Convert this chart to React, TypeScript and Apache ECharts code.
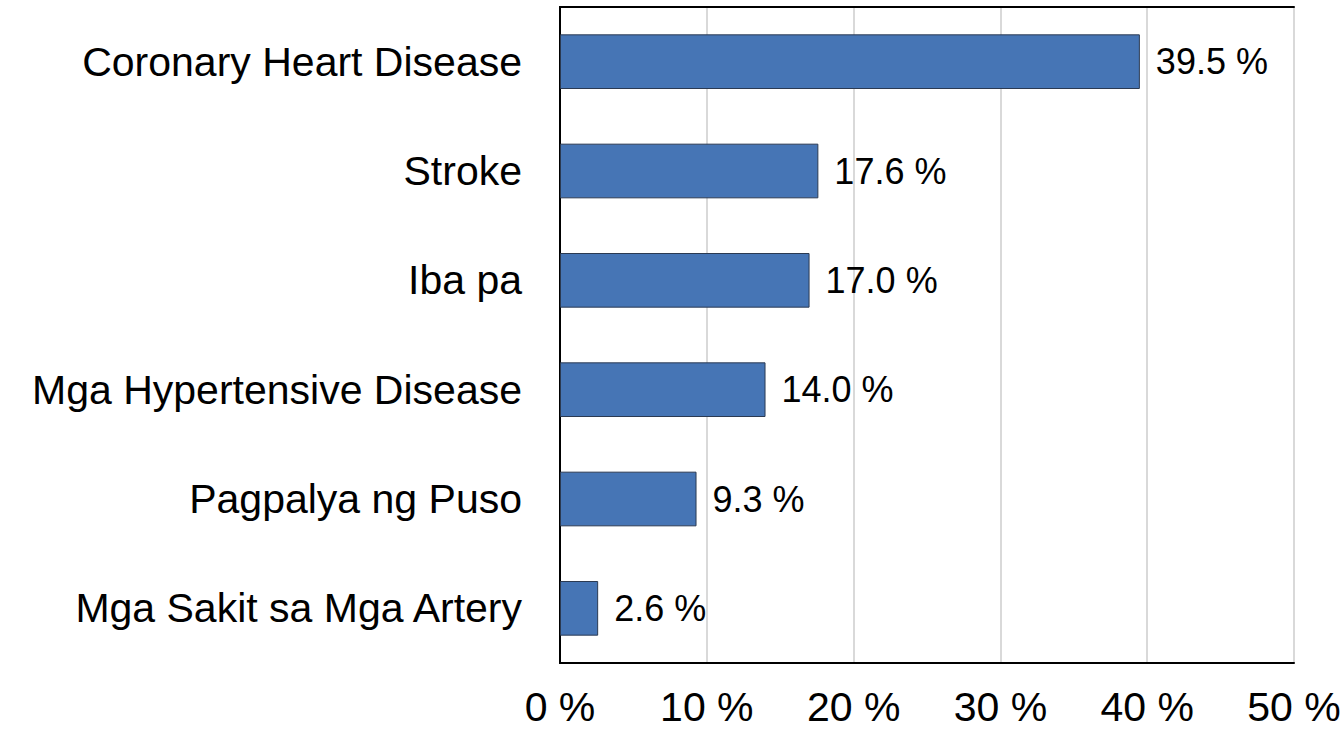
import React, { useEffect, useRef } from "react";
import * as echarts from "echarts";

const categories = [
  "Coronary Heart Disease",
  "Stroke",
  "Iba pa",
  "Mga Hypertensive Disease",
  "Pagpalya ng Puso",
  "Mga Sakit sa Mga Artery",
];
const values = [39.5, 17.6, 17.0, 14.0, 9.3, 2.6];
const axisMin = 0;
const axisMax = 50;
const axisStep = 10;

export default function App() {
  const ref = useRef<HTMLDivElement>(null);
  useEffect(() => {
    if (!ref.current) return;
    const chart = echarts.init(ref.current, null, { renderer: "svg" });
    const font = "Liberation Sans, Arial, sans-serif";
    const border = { show: true, lineStyle: { color: "#000000", width: 2 } };
    chart.setOption({
      animation: false,
      backgroundColor: "#ffffff",
      grid: {
        left: 560,
        top: 7,
        width: 734,
        height: 656,
        containLabel: false,
      },
      xAxis: [
        {
          type: "value",
          min: axisMin,
          max: axisMax,
          interval: axisStep,
          axisLine: border,
          axisTick: { show: false },
          splitLine: { show: true, lineStyle: { color: "#d9d9d9", width: 2 } },
          axisLabel: {
            formatter: "{value} %",
            fontSize: 41,
            lineHeight: 34,
            fontFamily: font,
            color: "#000000",
            margin: 27,
          },
        },
        {
          type: "value",
          position: "top",
          min: axisMin,
          max: axisMax,
          interval: axisStep,
          axisLine: border,
          axisTick: { show: false },
          splitLine: { show: false },
          axisLabel: { show: false },
        },
      ],
      yAxis: [
        {
          type: "category",
          inverse: true,
          data: categories,
          axisLine: border,
          axisTick: { show: false },
          splitLine: { show: false },
          axisLabel: {
            fontSize: 41,
            fontFamily: font,
            color: "#000000",
            margin: 38,
          },
        },
        {
          type: "category",
          position: "right",
          inverse: true,
          data: categories,
          axisLine: border,
          axisTick: { show: false },
          splitLine: { show: false },
          axisLabel: { show: false },
        },
      ],
      series: [
        {
          type: "bar",
          data: values,
          barWidth: "50%",
          itemStyle: {
            color: "#4675b5",
            borderColor: "#2b3a52",
            borderWidth: 1,
          },
          label: {
            show: true,
            position: "right",
            distance: 16,
            fontSize: 36,
            fontFamily: font,
            color: "#000000",
            formatter: (p: any) => p.value.toFixed(1) + " %",
          },
        },
      ],
    });
    return () => chart.dispose();
  }, []);
  return (
    <div
      ref={ref}
      style={{ position: "fixed", left: 0, top: 0, width: 1344, height: 730 }}
    />
  );
}
